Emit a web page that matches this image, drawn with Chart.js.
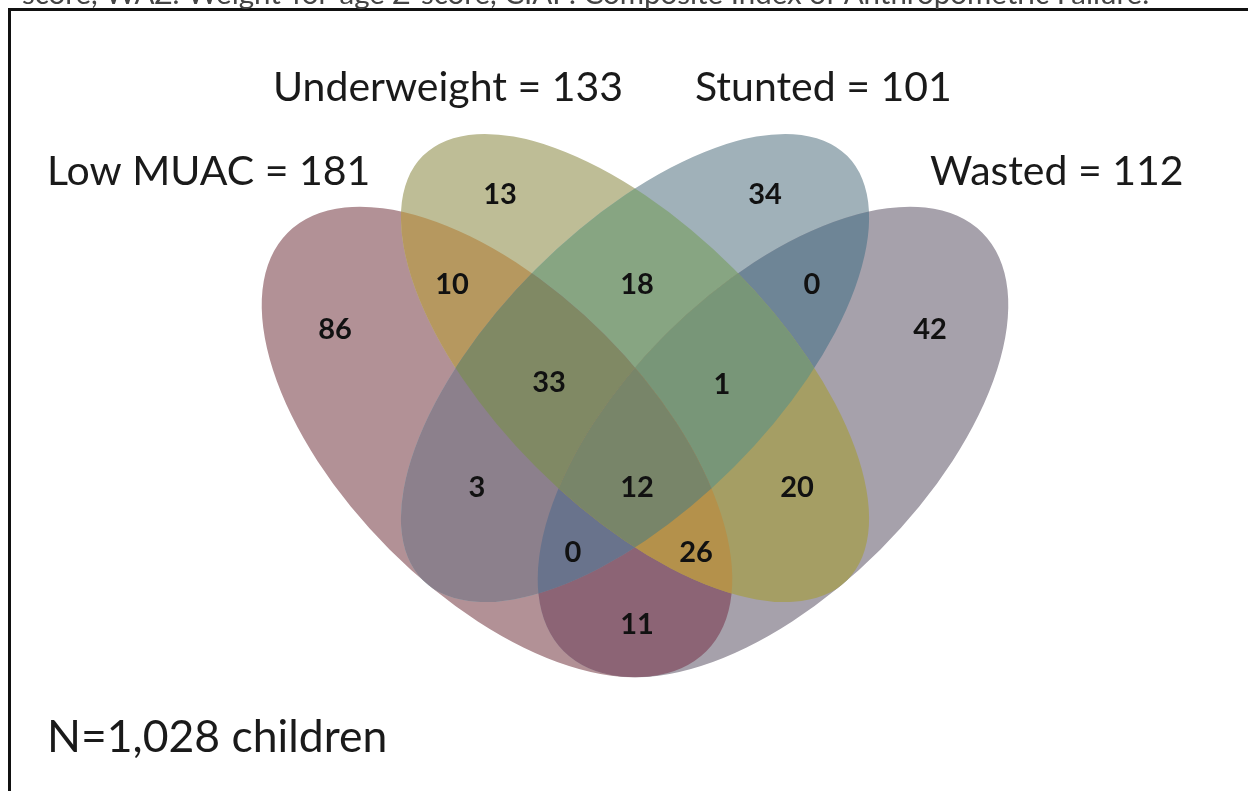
<!DOCTYPE html>
<html>
<head>
<meta charset="utf-8">
<script src="https://cdn.jsdelivr.net/npm/chart.js@4.4.1/dist/chart.umd.min.js"></script>
<style>
  html, body { margin: 0; padding: 0; background: #ffffff; }
  canvas { display: block; }
</style>
</head>
<body>
<canvas id="c" width="1248" height="791"></canvas>
<script>
// ---------------- DATA ----------------
const setNames  = ["Low MUAC", "Underweight", "Stunted", "Wasted"];
const setTotals = [181, 133, 101, 112];
// Each region: membership in [LowMUAC, Underweight, Stunted, Wasted]
const regionSets = [
  [1,0,0,0], [0,1,0,0], [0,0,1,0], [0,0,0,1],
  [1,1,0,0], [0,1,1,0], [0,0,1,1], [1,0,0,1], [1,0,1,0], [0,1,0,1],
  [1,1,1,0], [0,1,1,1], [1,0,1,1], [1,1,0,1],
  [1,1,1,1]
];
const regionCounts = [86, 13, 34, 42, 10, 18, 0, 11, 3, 20, 33, 1, 0, 26, 12];
const totalN = "N=1,028 children";
const captionText = "score, WAZ: Weight-for-age Z-score, CIAF: Composite Index of Anthropometric Failure.";

// ---------------- LAYOUT (positions / sizes / styles) ----------------
const ellipseGeom = [ // cx, cy, semi-major, semi-minor, rotation(deg)
  {cx: 497, cy: 442, a: 296, b: 152, rot: 45},
  {cx: 635, cy: 368, a: 300, b: 140, rot: 45},
  {cx: 635, cy: 368, a: 300, b: 140, rot: -45},
  {cx: 773, cy: 442, a: 296, b: 152, rot: -45}
];
const regionLabelPos = [
  [335,330],[500,195],[765,195],[930,330],
  [452,285],[637,285],[812,285],[637,625],[477,488],[797,488],
  [549,383],[722,385],[573,553],[696,553],
  [637,488]
];
const regionColors = [
  "#b29196", "#bebd96", "#a0b1b9", "#a6a1ab",
  "#b6985f", "#87a582", "#6e8596", "#8c6475", "#8c808c", "#a59e64",
  "#808964", "#789678", "#69738c", "#b4914b",
  "#788569"
];
const setLabelPos = [
  {x: 47,  y: 172},
  {x: 273, y: 88},
  {x: 695, y: 88},
  {x: 930, y: 172}
];

const vennPlugin = {
  id: "venn",
  beforeDatasetsDraw(chart) {
    const ctx = chart.ctx;
    const xs = chart.scales.x, ys = chart.scales.y;
    const px = v => xs.getPixelForValue(v);
    const py = v => ys.getPixelForValue(v);
    const ellPath = (g) => {
      const cx = px(g.cx), cy = py(g.cy);
      const rx = Math.abs(px(g.cx + g.a) - cx);
      const ry = Math.abs(py(g.cy + g.b) - cy);
      ctx.beginPath();
      ctx.ellipse(cx, cy, rx, ry, g.rot * Math.PI / 180, 0, Math.PI * 2);
    };
    const order = regionSets.map((s, i) => i).sort((i, j) =>
      regionSets[i].reduce((p, q) => p + q, 0) - regionSets[j].reduce((p, q) => p + q, 0));
    order.forEach(i => {
      ctx.save();
      regionSets[i].forEach((m, k) => { if (m) { ellPath(ellipseGeom[k]); ctx.clip(); } });
      ctx.fillStyle = regionColors[i];
      ctx.fillRect(0, 0, chart.width, chart.height);
      ctx.restore();
    });
  },
  afterDatasetsDraw(chart) {
    const ctx = chart.ctx;
    const xs = chart.scales.x, ys = chart.scales.y;
    const px = v => xs.getPixelForValue(v);
    const py = v => ys.getPixelForValue(v);
    ctx.save();
    // frame
    ctx.strokeStyle = "#111";
    ctx.lineWidth = 3;
    ctx.beginPath();
    ctx.moveTo(px(9.5), py(791));
    ctx.lineTo(px(9.5), py(9.5));
    ctx.lineTo(px(1248), py(9.5));
    ctx.stroke();
    // caption fragment
    ctx.fillStyle = "#444";
    ctx.font = "29.5px Lato";
    ctx.textAlign = "left";
    ctx.textBaseline = "alphabetic";
    ctx.fillText(captionText, px(22), py(4));
    // region counts
    ctx.fillStyle = "#111";
    ctx.font = "bold 29px Lato";
    ctx.textAlign = "center";
    ctx.textBaseline = "middle";
    regionCounts.forEach((v, i) => {
      ctx.fillText(String(v), px(regionLabelPos[i][0]), py(regionLabelPos[i][1]));
    });
    // set labels
    ctx.fillStyle = "#1a1a1a";
    ctx.font = "41px Lato";
    ctx.textAlign = "left";
    setNames.forEach((n, i) => {
      const p = setLabelPos[i];
      ctx.fillText(n + " = " + setTotals[i], px(p.x), py(p.y));
    });
    ctx.font = "44.5px Lato";
    ctx.fillText(totalN, px(47), py(738));
    ctx.restore();
  }
};

new Chart(document.getElementById("c"), {
  type: "scatter",
  data: { datasets: [{ label: "regions", data: [], pointRadius: 0 }] },
  options: {
    responsive: false,
    animation: false,
    layout: { padding: 0 },
    plugins: { legend: { display: false }, tooltip: { enabled: false } },
    scales: {
      x: { type: "linear", min: 0, max: 1248, display: false },
      y: { type: "linear", min: 0, max: 791, reverse: true, display: false }
    }
  },
  plugins: [vennPlugin]
});
</script>
</body>
</html>
